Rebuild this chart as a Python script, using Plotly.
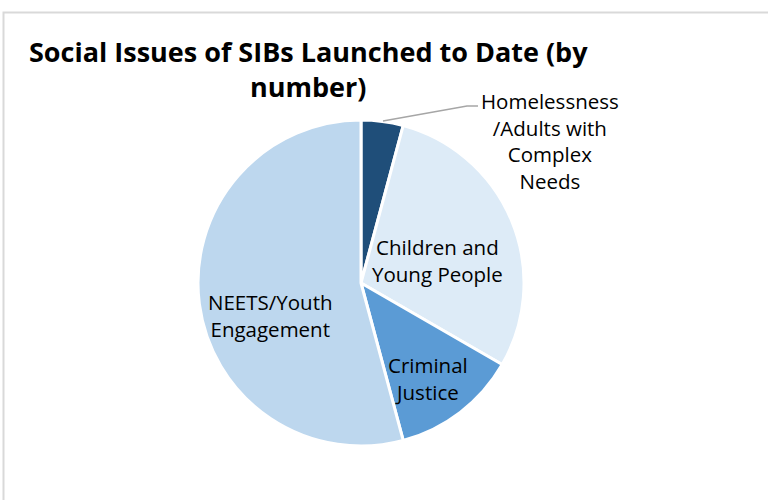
import plotly.graph_objects as go

labels = ["Homelessness/Adults with Complex Needs", "Children and Young People",
          "Criminal Justice", "NEETS/Youth Engagement"]
values = [1, 7, 3, 13]
colors = ["#1F4E79", "#DDEBF7", "#5B9BD5", "#BDD7EE"]
label_text = ["Homelessness<br>/Adults with<br>Complex<br>Needs", "Children and<br>Young People",
              "Criminal<br>Justice", "NEETS/Youth<br>Engagement"]
label_pos = [(550, 141), (437, 260), (428, 378), (270, 315)]

W, H = 768, 500
FONT = "Open Sans"

fig = go.Figure(go.Pie(
    labels=labels, values=values, sort=False, direction="clockwise", rotation=0,
    marker=dict(colors=colors, line=dict(color="white", width=3)),
    textinfo="none", hoverinfo="skip", showlegend=False,
    domain=dict(x=[198 / W, 524 / W], y=[54 / H, 380 / H]),
))

annotations = []
for t, (x, y) in zip(label_text, label_pos):
    annotations.append(dict(text=t, x=x / W, y=1 - y / H, xref="paper", yref="paper",
                            showarrow=False, font=dict(family=FONT, size=20.5, color="#000000"),
                            xanchor="center", yanchor="middle", align="center"))
annotations.append(dict(text="<b>Social Issues of SIBs Launched to Date (by<br>number)</b>",
                        x=308 / W, y=1 - 69 / H, xref="paper", yref="paper", showarrow=False,
                        font=dict(family=FONT, size=27, color="#000000"),
                        xanchor="center", yanchor="middle", align="center"))

shapes = [
    dict(type="rect", xref="paper", yref="paper", x0=3.5 / W, x1=1.02, y0=-0.02, y1=1 - 12.5 / H,
         line=dict(color="#D9D9D9", width=2), fillcolor="rgba(0,0,0,0)"),
    dict(type="path", xref="paper", yref="paper",
         path=f"M {383 / W},{1 - 121 / H} L {467 / W},{1 - 106 / H} L {478 / W},{1 - 106 / H}",
         line=dict(color="#A6A6A6", width=1.5)),
]

fig.update_layout(width=W, height=H, margin=dict(l=0, r=0, t=0, b=0),
                  paper_bgcolor="white", plot_bgcolor="white",
                  annotations=annotations, shapes=shapes)
fig.write_html("out.html")
